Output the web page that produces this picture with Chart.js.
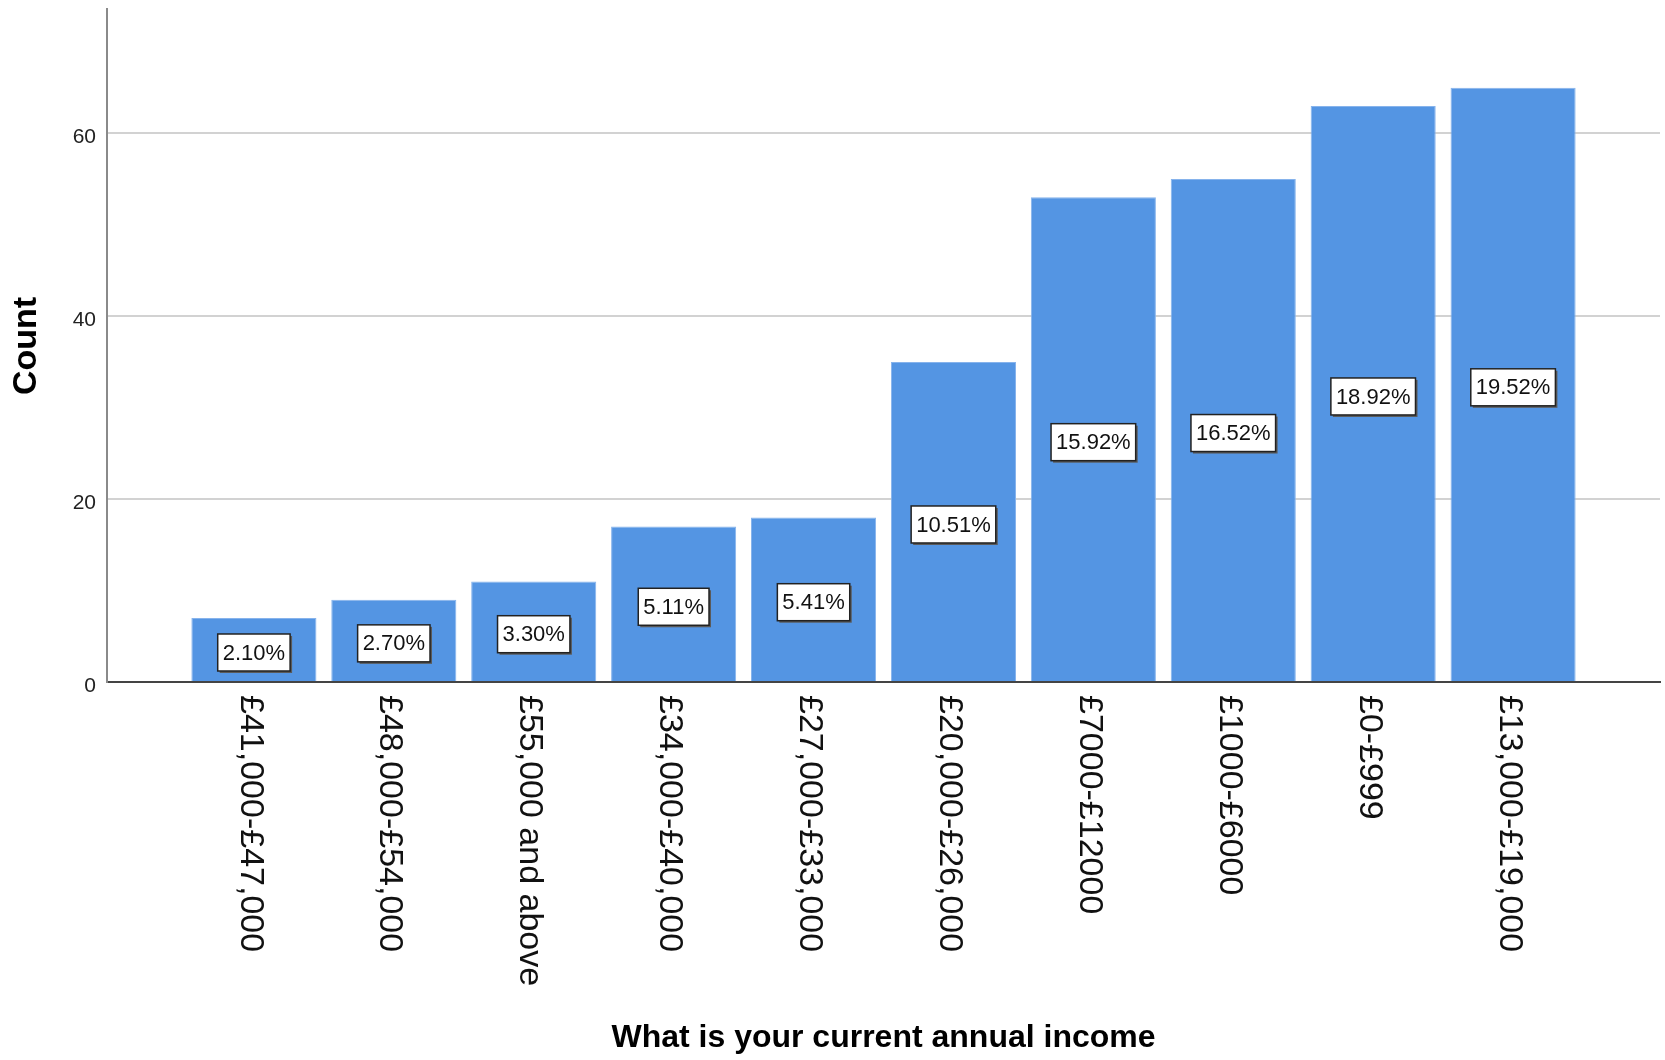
<!DOCTYPE html>
<html>
<head>
<meta charset="utf-8">
<title>Current annual income</title>
<script src="https://cdn.jsdelivr.net/npm/chart.js@4.4.1/dist/chart.umd.min.js"></script>
<style>
  html, body { margin: 0; padding: 0; background: #fff; }
  #wrap { position: relative; width: 1665px; height: 1060px; }
</style>
</head>
<body>
<div id="wrap"><canvas id="incomeChart"></canvas></div>
<script>
// values
const categories = [
    '£41,000-£47,000', '£48,000-£54,000', '£55,000 and above', '£34,000-£40,000',
    '£27,000-£33,000', '£20,000-£26,000', '£7000-£12000', '£1000-£6000',
    '£0-£999', '£13,000-£19,000'
];
const counts = [7, 9, 11, 17, 18, 35, 53, 55, 63, 65];
const percentLabels = ['2.10%', '2.70%', '3.30%', '5.11%', '5.41%', '10.51%', '15.92%', '16.52%', '18.92%', '19.52%'];
const yTicks = [0, 20, 40, 60];
const xTitle = 'What is your current annual income';
const yTitle = 'Count';

const FONT = '"Liberation Sans", Arial, sans-serif';
const X_MIN = -1.05, X_MAX = 10.05; // empty space either side of the bars
const Y_MAX = 73.6;

// percent boxes in the middle of each bar
const boxLabels = {
    id: 'boxLabels',
    afterDatasetsDraw(chart) {
        const ctx = chart.ctx;
        const meta = chart.getDatasetMeta(0);
        ctx.save();
        ctx.font = '22px ' + FONT;
        ctx.textAlign = 'center';
        ctx.textBaseline = 'middle';
        meta.data.forEach((bar, i) => {
            const txt = percentLabels[i];
            const w = ctx.measureText(txt).width + 10;
            const h = 37;
            const cx = bar.x;
            const cy = (bar.y + bar.base) / 2 + 3;
            ctx.fillStyle = '#5a5a5a';
            ctx.fillRect(cx - w / 2 + 2, cy - h / 2 + 2, w, h);
            ctx.fillStyle = '#fff';
            ctx.fillRect(cx - w / 2, cy - h / 2, w, h);
            ctx.strokeStyle = '#222';
            ctx.lineWidth = 1.5;
            ctx.strokeRect(cx - w / 2, cy - h / 2, w, h);
            ctx.fillStyle = '#111';
            ctx.fillText(txt, cx, cy + 1);
        });
        ctx.restore();
    }
};

// rotated category names + axis titles
const axisText = {
    id: 'axisText',
    afterDraw(chart) {
        const ctx = chart.ctx;
        const xs = chart.scales.x;
        const area = chart.chartArea;
        ctx.save();
        ctx.fillStyle = '#111';
        ctx.font = '34px ' + FONT;
        ctx.textAlign = 'left';
        ctx.textBaseline = 'middle';
        categories.forEach((name, i) => {
            ctx.save();
            ctx.translate(xs.getPixelForValue(i) - 4, area.bottom + 13);
            ctx.rotate(Math.PI / 2);
            ctx.fillText(name, 0, 0);
            ctx.restore();
        });

        ctx.fillStyle = '#000';
        ctx.font = 'bold 32px ' + FONT;
        ctx.textAlign = 'center';
        ctx.textBaseline = 'alphabetic';
        ctx.fillText(xTitle, (area.left + area.right) / 2, 1047);

        ctx.save();
        ctx.translate(27, 346);
        ctx.rotate(-Math.PI / 2);
        ctx.font = 'bold 34px ' + FONT;
        ctx.textBaseline = 'middle';
        ctx.fillText(yTitle, 0, 0);
        ctx.restore();
        ctx.restore();
    }
};

const ctx = document.getElementById('incomeChart');
new Chart(ctx, {
    type: 'bar',
    data: {
        datasets: [{
            label: 'Count',
            data: counts.map((v, i) => ({ x: i, y: v })),
            backgroundColor: '#5495e3',
            borderColor: '#86b3ec',
            borderWidth: 1,
            barPercentage: 0.894,
            categoryPercentage: 1
        }]
    },
    options: {
        responsive: true,
        maintainAspectRatio: false,
        animation: false,
        layout: { padding: { top: 9, right: 5, left: 0, bottom: 0 } },
        plugins: {
            legend: { display: false },
            tooltip: { enabled: false }
        },
        scales: {
            x: {
                type: 'linear',
                offset: false,
                bounds: 'data',
                min: X_MIN,
                max: X_MAX,
                ticks: { display: false },
                grid: { display: false, offset: false },
                border: { display: true, color: '#444', width: 2 },
                afterBuildTicks(scale) {
                    scale.ticks = categories.map((c, i) => ({ value: i }));
                    scale.min = X_MIN;
                    scale.max = X_MAX;
                },
                afterFit(scale) { scale.height = 378; }
            },
            y: {
                min: 0,
                max: Y_MAX,
                bounds: 'data',
                afterBuildTicks(scale) {
                    scale.ticks = yTicks.map(v => ({ value: v }));
                    scale.min = 0;
                    scale.max = Y_MAX;
                },
                ticks: {
                    color: '#222',
                    font: { family: FONT, size: 21 },
                    padding: 11,
                    labelOffset: 4
                },
                grid: { color: '#d2d2d2', lineWidth: 2, drawTicks: false },
                border: { display: true, color: '#8a8a8a', width: 2 },
                afterFit(scale) {
                    scale.width = 107;
                    scale.paddingTop = 0;
                    scale.paddingBottom = 0;
                }
            }
        }
    },
    plugins: [boxLabels, axisText]
});
</script>
</body>
</html>
